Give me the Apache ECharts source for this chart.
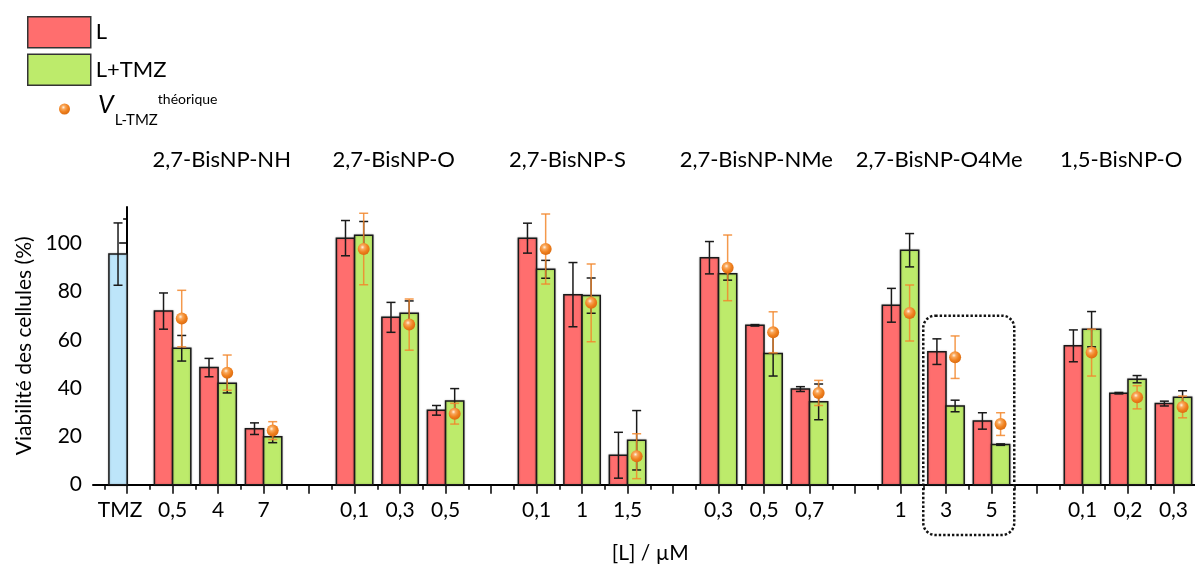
<!DOCTYPE html>
<html>
<head>
<meta charset="utf-8">
<script src="https://cdn.jsdelivr.net/npm/echarts@6/dist/echarts.min.js"></script>
<style>
html,body{margin:0;padding:0;background:#fff;}
#chart{width:1195px;height:567px;}
</style>
</head>
<body>
<div id="chart"></div>
<script>
// ---------- data ----------
const xLabels = ['TMZ','0,5','4','7','','0,1','0,3','0,5','','0,1','1','1,5','','0,3','0,5','0,7','','1','3','5','','0,1','0,2','0,3'];
const groupNames = ['2,7-BisNP-NH','2,7-BisNP-O','2,7-BisNP-S','2,7-BisNP-NMe','2,7-BisNP-O4Me','1,5-BisNP-O'];
const yTicks = [0,20,40,60,80,100];

const tmzValue = [95.5];
const tmzErr = [12.9];

const lValues  = [null,71.9,48.5,23.2,null,102.1,69.3,30.8,null,102.1,78.7,12.2,null,94.0,66.0,39.6,null,74.3,55.1,26.4,null,57.5,37.9,33.6];
const lErr     = [null,7.5,3.8,2.4,null,7.3,6.2,2.0,null,6.2,13.3,9.5,null,6.7,0.3,1.0,null,7.0,5.3,3.4,null,6.6,0.3,1.0];
const ltValues = [null,56.5,42.0,19.9,null,103.3,71.0,34.7,null,89.2,78.3,18.4,null,87.4,54.3,34.3,null,97.1,32.6,16.6,null,64.4,43.7,36.2];
const ltErr    = [null,5.3,4.0,2.5,null,5.7,5.1,5.1,null,3.7,7.3,12.3,null,2.7,9.3,7.4,null,6.9,2.4,0.3,null,7.3,1.5,2.7];
const vValues  = [null,68.8,46.4,22.4,null,97.6,66.3,29.4,null,97.6,75.3,11.8,null,89.8,63.1,38.0,null,71.1,52.8,25.1,null,54.7,36.2,32.2];
const vErr     = [null,11.7,7.3,3.7,null,14.8,10.6,4.3,null,14.5,16.1,9.3,null,13.6,8.5,5.2,null,11.6,8.8,4.7,null,9.7,4.8,4.5];

// ---------- layout / style ----------
const FONT = 'Lato';
const RED = '#FF6E6E', GREEN = '#BDEB6B', BLUE = '#BDE5FA';
const titlePos = [2.08, 5.86, 9.68, 13.83, 17.85, 21.85];  // group title centres (axis units)
const box = {x0: 17.5, x1: 19.5, yTop: 70, yBottom: -20.8};
const BAR = 0.4;

function pairs(vals, errs, shift) {
  const out = [];
  vals.forEach((v, i) => { if (v !== null) out.push([i + (shift || 0), v, errs ? errs[i] : 0]); });
  return out;
}

function errGroup(top, bot, color) {
  const c = 4.5;
  const ls = {stroke: color, lineWidth: 1.5};
  return [
    {type:'line', shape:{x1: top[0], y1: top[1], x2: bot[0], y2: bot[1]}, style: ls},
    {type:'line', shape:{x1: top[0]-c, y1: top[1], x2: top[0]+c, y2: top[1]}, style: ls},
    {type:'line', shape:{x1: bot[0]-c, y1: bot[1], x2: bot[0]+c, y2: bot[1]}, style: ls}
  ];
}

function barRender(left, right, errColor) {
  return function (params, api) {
    const x = api.value(0), y = api.value(1), e = api.value(2);
    const tl = api.coord([x + left, y]);
    const br = api.coord([x + right, 0]);
    let children = [{
      type: 'rect',
      shape: {x: tl[0], y: tl[1], width: br[0] - tl[0], height: br[1] - tl[1]},
      style: {fill: api.visual('color'), stroke: '#1a1a1a', lineWidth: 1.5,
              shadowColor: 'rgba(0,0,0,0.25)', shadowBlur: 2}
    }];
    if (e) {
      const cx = x + (left + right) / 2;
      children = children.concat(errGroup(api.coord([cx, y + e]), api.coord([cx, y - e]), errColor));
    }
    return {type: 'group', children};
  };
}

function errRender(color) {
  return function (params, api) {
    const x = api.value(0), y = api.value(1), e = api.value(2);
    return {type: 'group', children: errGroup(api.coord([x, y + e]), api.coord([x, y - e]), color)};
  };
}

const orangeBall = {
  type: 'radial', x: 0.4, y: 0.35, r: 0.7,
  colorStops: [
    {offset: 0, color: '#FFF3E4'},
    {offset: 0.25, color: '#F9A85C'},
    {offset: 0.6, color: '#F0811F'},
    {offset: 1, color: '#D8680E'}
  ]
};

const xMin = -0.75, xMax = 23.75;
const intTicks = xLabels.map((_, i) => i);
const halfTicks = [];
for (let i = 0; i <= xLabels.length; i++) halfTicks.push(i - 0.5);
const labelTicks = xLabels.map((l, i) => l ? i : null).filter(v => v !== null);

const chart = echarts.init(document.getElementById('chart'), null, {renderer: 'canvas'});

const option = {
  animation: false,
  backgroundColor: '#fff',
  grid: {left: 93, top: 207, width: 1114.6, height: 277.7, outerBoundsMode: 'none', containLabel: false},
  legend: [
    {
      data: [
        {name: 'L', icon: 'rect', itemStyle: {color: RED, borderColor: '#333', borderWidth: 1.5}},
        {name: 'L+TMZ', icon: 'rect', itemStyle: {color: GREEN, borderColor: '#333', borderWidth: 1.5}}
      ],
      orient: 'vertical', left: 27, top: 16, padding: 0, itemWidth: 63, itemHeight: 31, itemGap: 5,
      selectedMode: false,
      textStyle: {fontFamily: FONT, fontSize: 22, color: '#000'}
    },
    {
      data: [{name: 'V', icon: 'circle'}],
      left: 59, top: 92, padding: 0, itemWidth: 11, itemHeight: 11,
      selectedMode: false,
      formatter: () => '{v|V}{sub|L-TMZ}{sup|théorique}',
      textStyle: {
        fontFamily: FONT, color: '#000',
        rich: {
          v: {fontFamily: FONT, fontSize: 25, fontStyle: 'italic', color: '#000', padding: [0, 1, 8, 23]},
          sub: {fontFamily: FONT, fontSize: 15, color: '#000', padding: [22, 0, 0, 0]},
          sup: {fontFamily: FONT, fontSize: 14, color: '#000', padding: [0, 0, 20, 0]}
        }
      }
    }
  ],
  xAxis: [
    {
      type: 'value', min: xMin, max: xMax, position: 'bottom',
      name: '[L] / µM', nameLocation: 'middle', nameGap: 58,
      nameTextStyle: {fontFamily: FONT, fontSize: 21, color: '#000'},
      axisLine: {show: true, onZero: false, lineStyle: {color: '#000', width: 2}},
      axisTick: {show: true, customValues: intTicks, length: 9, lineStyle: {color: '#000', width: 1.5}},
      axisLabel: {
        show: true, customValues: labelTicks, margin: 15,
        fontFamily: FONT, fontSize: 21, color: '#000',
        formatter: (v) => v === 0 ? '{t|' + xLabels[0] + '}' : xLabels[Math.round(v)],
        rich: {t: {fontFamily: FONT, fontSize: 21, color: '#000', padding: [0, 14, 0, 0]}}
      },
      splitLine: {show: false}
    },
    {
      type: 'value', min: xMin, max: xMax, position: 'bottom',
      axisLine: {show: false},
      axisTick: {show: true, customValues: halfTicks, length: 5, lineStyle: {color: '#000', width: 1.5}},
      axisLabel: {show: false},
      splitLine: {show: false}
    }
  ],
  yAxis: {
    type: 'value', min: 0, max: 115, interval: 20,
    name: 'Viabilité des cellules (%)', nameLocation: 'middle', nameGap: 58,
    nameTextStyle: {fontFamily: FONT, fontSize: 21, color: '#000'},
    axisLine: {show: true, lineStyle: {color: '#000', width: 2}},
    axisTick: {show: true, customValues: yTicks, length: 8, lineStyle: {color: '#000', width: 1.5}},
    minorTick: {show: true, splitNumber: 2, length: 4, lineStyle: {color: '#000', width: 1.5}},
    axisLabel: {customValues: yTicks, margin: 11, fontFamily: FONT, fontSize: 21, color: '#000'},
    splitLine: {show: false},
    minorSplitLine: {show: false}
  },
  series: [
    {name: 'TMZ', type: 'custom', color: BLUE, data: pairs(tmzValue, tmzErr), renderItem: barRender(-BAR, 0, '#1a1a1a'), encode: {x: 0, y: 1}, z: 2},
    {name: 'L', type: 'custom', color: RED, data: pairs(lValues, lErr), renderItem: barRender(-BAR, 0, '#1a1a1a'), encode: {x: 0, y: 1}, z: 2},
    {name: 'L+TMZ', type: 'custom', color: GREEN, data: pairs(ltValues, ltErr), renderItem: barRender(0, BAR, '#1a1a1a'), encode: {x: 0, y: 1}, z: 3},
    {name: 'Verr', type: 'custom', data: pairs(vValues, vErr, BAR / 2), renderItem: errRender('rgba(242,135,45,0.85)'), encode: {x: 0, y: 1}, z: 4},
    {name: 'V', type: 'scatter', data: pairs(vValues, null, BAR / 2).map(d => [d[0], d[1]]), symbol: 'circle', symbolSize: 12,
     itemStyle: {color: orangeBall, opacity: 1}, z: 5}
  ]
};

chart.setOption(option);

// group titles and the dotted highlight box, placed through the axes' scales
const titleY = 160;
const graphics = groupNames.map((g, i) => ({
  type: 'text',
  x: chart.convertToPixel({xAxisIndex: 0}, titlePos[i]),
  y: titleY,
  style: {text: g, fontFamily: FONT, fontSize: 22, fill: '#000', align: 'center', verticalAlign: 'middle'}
}));
const bx0 = chart.convertToPixel({xAxisIndex: 0}, box.x0);
const bx1 = chart.convertToPixel({xAxisIndex: 0}, box.x1);
const by0 = chart.convertToPixel({yAxisIndex: 0}, box.yTop);
const by1 = chart.convertToPixel({yAxisIndex: 0}, box.yBottom);
graphics.push({
  type: 'rect', z: 10,
  shape: {x: bx0, y: by0, width: bx1 - bx0, height: by1 - by0, r: 12},
  style: {fill: 'none', stroke: '#111', lineWidth: 2.5, lineDash: [2.4, 2]}
});
chart.setOption({graphic: graphics});
</script>
</body>
</html>
